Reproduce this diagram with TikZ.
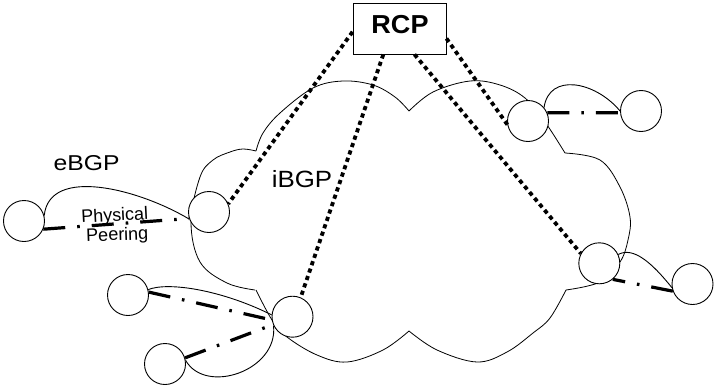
\documentclass[tikz,border=0pt]{standalone}
\usepackage{fontspec}
\setmainfont{Liberation Sans}
\begin{document}
\begin{tikzpicture}[x=1pt,y=-1pt,
  router/.style={circle, draw, line width=0.9pt, fill=white, minimum size=41pt, inner sep=0pt},
  cloudline/.style={line width=0.8pt},
  ibgp/.style={line width=3.8pt, dash pattern=on 4.2pt off 3.6pt},
  phys/.style={line width=3.2pt, dash pattern=on 22pt off 12pt on 2.6pt off 12pt},
  ebgp/.style={line width=0.9pt},
  lbl/.style={inner sep=0pt, anchor=base}]
\useasboundingbox (0,0) rectangle (714,388);
% cloud
\draw[cloudline] plot[smooth,tension=0.6] coordinates {(255,290) (227,283) (200,262) (191,222) (200,177) (213,160) (230,152) (243,149) (256,151)};
\draw[cloudline] plot[smooth,tension=0.6] coordinates {(256,151) (263,133) (280,113) (313,88) (343,81) (373,85) (395,97) (409,111)};
\draw[cloudline] plot[smooth,tension=0.6] coordinates {(409,111) (433,92) (470,81) (500,85) (525,98) (545,122) (565,153)};
\draw[cloudline] plot[smooth,tension=0.6] coordinates {(565,153) (600,160) (620,187) (630,217) (628,240) (620,262) (600,282) (566,290)};
\draw[cloudline] plot[smooth,tension=0.6] coordinates {(566,290) (550,318) (533,333) (507,352) (477,362) (437,350) (409,331)};
\draw[cloudline] plot[smooth,tension=0.6] coordinates {(409,331) (383,350) (347,362) (317,355) (287,337) (272,320) (256,290)};
% nodes
\node[router] (A) at (24,221) {};
\node[router] (B) at (209,212) {};
\node[router] (C) at (128,295) {};
\node[router] (D) at (165,364) {};
\node[router] (E) at (292.5,316.7) {};
\node[router] (F) at (528,121) {};
\node[router] (G) at (641,111) {};
\node[router] (H) at (599.3,263.3) {};
\node[router] (I) at (692.5,284) {};
\node[draw, line width=0.9pt, fill=white, minimum width=93pt, minimum height=51pt, inner sep=0pt] (rcp) at (399.5,28.5) {};
% labels
\node[lbl] (trcp) at (400,33.3) {\fontsize{26}{30}\selectfont\bfseries\scalebox{1.04}[1]{RCP}};
\node[lbl] (tebgp) at (86.7,170) {\fontsize{21.5}{25}\selectfont\scalebox{1.15}[1]{eBGP}};
\node[lbl] (tibgp) at (302,187.7) {\fontsize{23.5}{27}\selectfont\scalebox{1.1}[1]{iBGP}};
\node[lbl, rotate=3] (tphys) at (115,221.2) {\fontsize{18}{21}\selectfont Physical};
\node[lbl, rotate=2] (tpeer) at (117.5,240.5) {\fontsize{18}{21}\selectfont Peering};
% iBGP sessions
\draw[ibgp] (rcp.184) -- (B.23);
\draw[ibgp] (rcp.238) -- (E.67);
\draw[ibgp] (rcp.-60) -- (H.152);
\draw[ibgp] (rcp.-12) -- (F.190);
% physical links
\draw[phys] (A.-23) -- (B.198);
\draw[phys] (C.8) -- (E.189);
\draw[phys] (D.17) -- (E.202);
\draw[phys] (F.23) -- (G.185);
\draw[phys] (I.200) -- (H.-50);
% eBGP sessions
\draw[ebgp] (A.15) .. controls +(5,-50) and +(-50,-30) .. (B.200);
\draw[ebgp] (C.15) .. controls +(20,-8) and +(-50,-25) .. (E.175);
\draw[ebgp] (D.10) .. controls +(20,35) and +(5,45) .. (E.205);
\draw[ebgp] (F.40) .. controls +(5,-35) and +(-25,-30) .. (G.180);
\draw[ebgp] (H.25) .. controls +(15,-8) and +(-20,-25) .. (I.190);
\end{tikzpicture}
\end{document}
